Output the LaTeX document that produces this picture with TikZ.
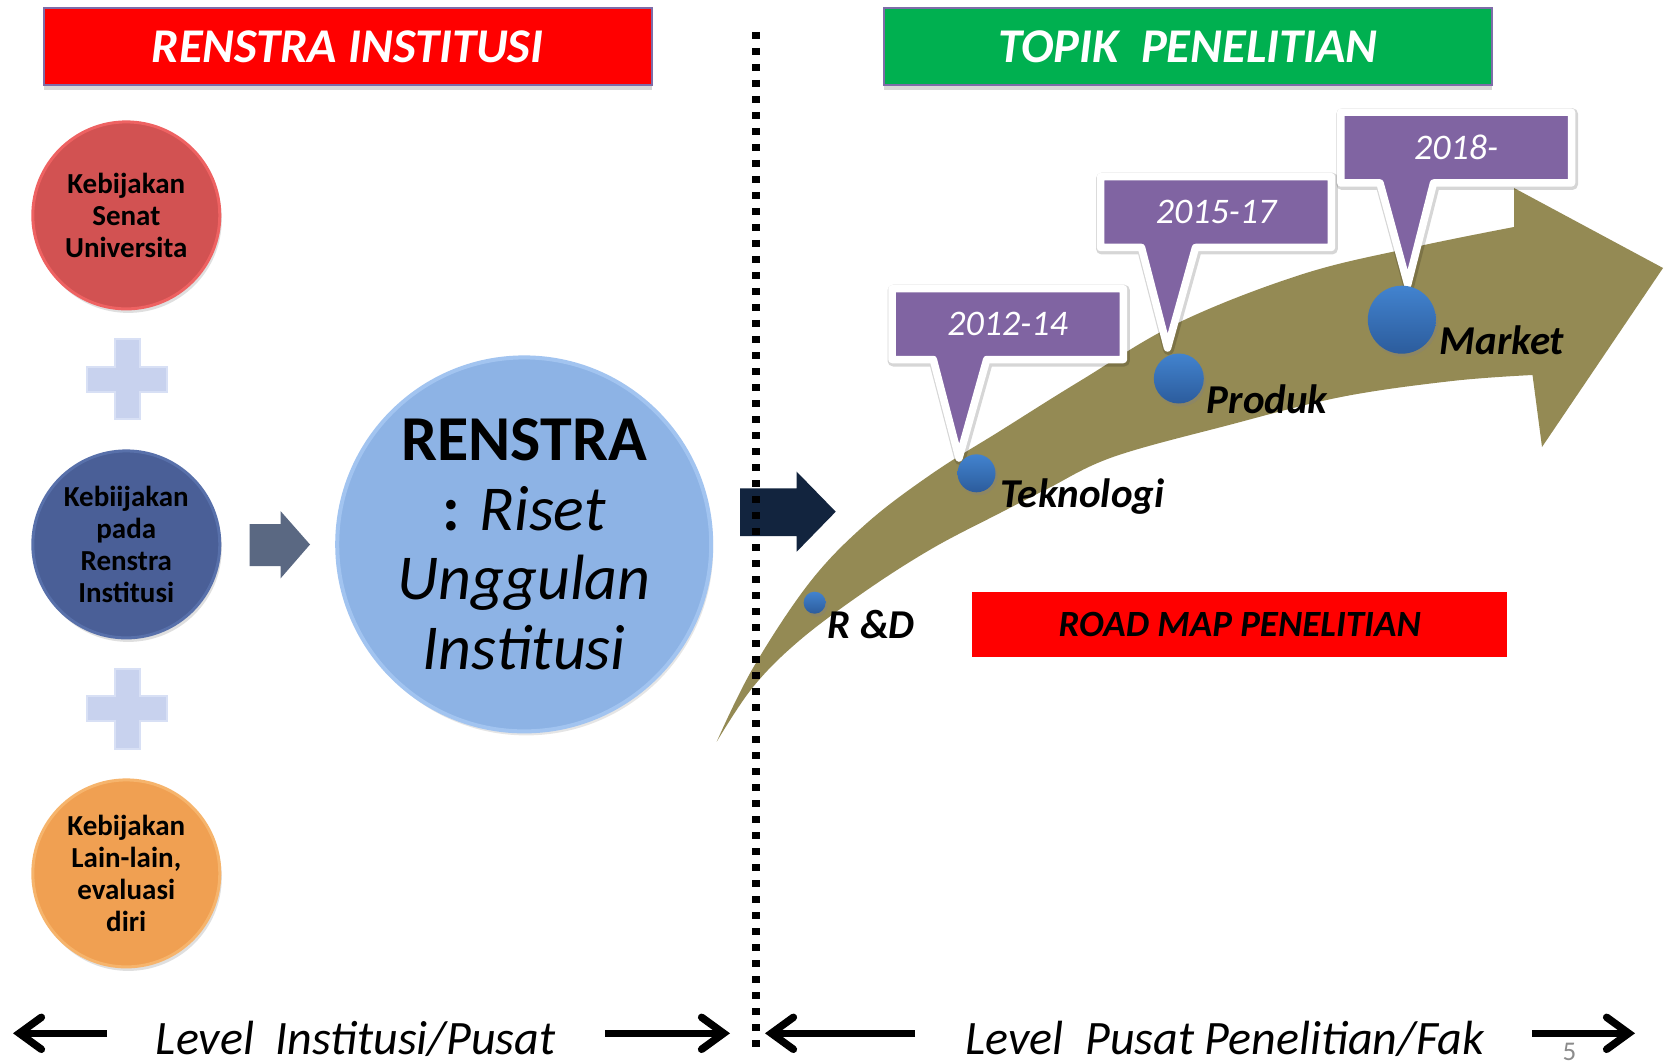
\documentclass[tikz,border=0pt]{standalone}
\usepackage{fontspec}
\setmainfont{Carlito}
\usetikzlibrary{shadows,arrows.meta}
\definecolor{cRed}{HTML}{FF0000}
\definecolor{cGreen}{HTML}{00B050}
\definecolor{cHdrB}{HTML}{7E6CA8}
\definecolor{cPurple}{HTML}{8064A2}
\definecolor{cOlive}{HTML}{948A54}
\definecolor{cNavy}{HTML}{12243E}
\definecolor{cGrayArr}{HTML}{5A6882}
\definecolor{cPlus}{HTML}{C8D2EE}
\definecolor{cPlusE}{HTML}{D8E0F5}
\definecolor{cBig}{HTML}{8DB3E5}
\definecolor{cBigE}{HTML}{A2C4F0}
\definecolor{cRedC}{HTML}{D25252}
\definecolor{cRedCE}{HTML}{EE6262}
\definecolor{cBlueC}{HTML}{4A5F97}
\definecolor{cBlueCE}{HTML}{5870AA}
\definecolor{cOrC}{HTML}{F0A052}
\definecolor{cOrCE}{HTML}{F6B46C}
\definecolor{cDotTop}{HTML}{4283CF}
\definecolor{cDotBot}{HTML}{2C5C9C}
\definecolor{cPage}{HTML}{8C8C8C}
\tikzset{
  hdr/.style={draw=cHdrB, line width=2pt, minimum width=608pt, minimum height=77pt,
    inner sep=0pt, text=white, font=\fontsize{48.5}{58}\selectfont\bfseries\itshape,
    drop shadow={opacity=.3, shadow xshift=0pt, shadow yshift=-5pt}},
  pol/.style={circle, inner sep=0pt, minimum size=187pt, line width=3pt, align=center,
    font=\fontsize{29}{32}\selectfont\bfseries,
    drop shadow={opacity=.25, shadow xshift=2pt, shadow yshift=-4pt}},
  tdot/.style={circle, inner sep=0pt, top color=cDotTop, bottom color=cDotBot,
    drop shadow={opacity=.35, shadow xshift=2pt, shadow yshift=-3pt}},
  stagelbl/.style={font=\fontsize{41}{49}\selectfont\bfseries\itshape, anchor=base west, inner sep=0pt},
  caltext/.style={text=white, font=\fontsize{36}{43}\selectfont\itshape, inner sep=0pt},
  calbox/.style={draw=white, fill=cPurple, line width=7.5pt, line join=round,
    preaction={draw=black, draw opacity=.16, line width=11pt, line join=round,
      transform canvas={xshift=1pt, yshift=-1.5pt}}},
  plusst/.style={fill=cPlus, draw=cPlusE, line width=2pt},
  levtext/.style={font=\fontsize{48}{58}\selectfont\itshape, anchor=base, inner sep=0pt},
  levarrow/.style={line width=7.5pt, -{Straight Barb[length=22pt, width=32pt, line cap=round]}},
}
\begin{document}
\begin{tikzpicture}[x=1pt, y=-1pt]
\useasboundingbox (0,0) rectangle (1664,1064);
\fill[white] (0,0) rectangle (1664,1064);

% headers
\node (h1) [hdr, fill=cRed] at (347.5,46.7) {RENSTRA INSTITUSI};
\node (h2) [hdr, fill=cGreen] at (1188,46.7) {TOPIK\ \ PENELITIAN};

% policy circles
\node (red) [pol, fill=cRedC, draw=cRedCE] at (126.3,215.4) {Kebijakan\\Senat\\Universita};
\node (blu) [pol, fill=cBlueC, draw=cBlueCE] at (126.3,544.4) {Kebiijakan\\pada\\Renstra\\Institusi};
\node (ora) [pol, fill=cOrC, draw=cOrCE] at (126.3,873.4) {Kebijakan\\Lain-lain,\\evaluasi\\diri};

% plus signs
\foreach \cy in {379.3,708.9}{
  \filldraw[plusst] (114.5,{\cy-40}) -- (139.5,{\cy-40}) -- (139.5,{\cy-12.5}) -- (167,{\cy-12.5})
    -- (167,{\cy+12.5}) -- (139.5,{\cy+12.5}) -- (139.5,{\cy+40}) -- (114.5,{\cy+40})
    -- (114.5,{\cy+12.5}) -- (86.5,{\cy+12.5}) -- (86.5,{\cy-12.5}) -- (114.5,{\cy-12.5}) -- cycle;
}

% gray block arrow
\fill[cGrayArr] (249.5,524) -- (280.5,524) -- (280.5,511) -- (310,544.5) -- (280.5,578.5)
  -- (280.5,566) -- (249.5,566) -- cycle;

% big circle
\node (big) [circle, inner sep=0pt, minimum size=374pt, fill=cBig, draw=cBigE, line width=4pt,
  align=center, font=\fontsize{64}{69.5}\selectfont,
  drop shadow={opacity=.2, shadow xshift=2pt, shadow yshift=-4pt}] at (524.2,544.4)
  {{\bfseries RENSTRA}\\{\bfseries :} {\itshape Riset}\\{\itshape Unggulan}\\{\itshape Institusi}};

% olive curved arrow
\fill[cOlive] plot[smooth, tension=0.6] coordinates {(716.7,741.7) (753,668) (810,582) (867,523)
    (933,473) (1000,431) (1080,381) (1180,322) (1303,274) (1415,247) (1514,227)}
  -- (1514,188) -- (1663,268) -- (1542,447) -- (1532.5,375)
  -- plot[smooth, tension=0.6] coordinates {(1532.5,375) (1452,381) (1341,397) (1229,425)
    (1113,457) (1047,489) (1000,513) (933,548) (867,590) (800,640) (753,687) (716.7,741.7)}
  -- cycle;

% navy block arrow
\fill[cNavy] (740,488.3) -- (796.7,488.3) -- (796.7,471.7) -- (835.7,511.7) -- (796.7,551.7)
  -- (796.7,536) -- (740,536) -- cycle;

% callouts
\filldraw[calbox] (892,288.7) -- (1123.4,288.7) -- (1123.4,359.5) -- (986.7,359.5) -- (959,458)
  -- (933.3,359.5) -- (892,359.5) -- cycle;
\filldraw[calbox] (1100.5,176.7) -- (1331.4,176.7) -- (1331.4,247.5) -- (1195.5,247.5) -- (1167.5,348)
  -- (1141.5,247.5) -- (1100.5,247.5) -- cycle;
\filldraw[calbox] (1340.8,112.2) -- (1571.5,112.2) -- (1571.5,183) -- (1433.5,183) -- (1407.7,284.5)
  -- (1380,183) -- (1340.8,183) -- cycle;
\node (c1) [caltext] at (1007.7,324.1) {2012-14};
\node (c2) [caltext] at (1216,212.1) {2015-17};
\node (c3) [caltext] at (1456.2,147.6) {2018-};

% dots
\node (drd) [tdot, minimum size=22pt] at (814.6,602.7) {};
\node (dtek) [tdot, minimum size=38pt] at (976.5,473.3) {};
\node (dpro) [tdot, minimum size=50pt] at (1178.8,378.5) {};
\node (dmar) [tdot, minimum size=68pt] at (1401.8,319.7) {};

% stage labels
\node (lrd) [stagelbl] at (827.5,638.3) {R \&D};
\node (ltek) [stagelbl] at (1000.5,507) {Teknologi};
\node (lpro) [stagelbl] at (1206.6,413.3) {Produk};
\node (lmar) [stagelbl] at (1439.4,354) {Market};

% road map box
\node (road) [fill=cRed, minimum width=535.5pt, minimum height=64.5pt, inner sep=0pt,
  font=\fontsize{37}{44}\selectfont\bfseries\itshape] at (1239.7,624.5) {ROAD MAP PENELITIAN};

% dotted divider
\coordinate (dtop) at (756.2,32);
\coordinate (dbot) at (756.2,1047);
\draw[line width=7.5pt, dash pattern=on 7pt off 9pt] (dtop) -- (dbot);

% bottom level labels and arrows
\node (lev1) [levtext] at (355.6,1054) {Level\ \ Institusi/Pusat};
\node (lev2) [levtext] at (1224.7,1054) {Level\ \ Pusat Penelitian/Fak};
\coordinate (la1) at (107,1033.3);
\coordinate (la2) at (13,1033.3);
\coordinate (ra1) at (605,1033.3);
\coordinate (ra2) at (730,1033.3);
\coordinate (lb1) at (915,1033.3);
\coordinate (lb2) at (765,1033.3);
\coordinate (rb1) at (1532,1033.3);
\coordinate (rb2) at (1635,1033.3);
\draw[levarrow] (la1) -- (la2);
\draw[levarrow] (ra1) -- (ra2);
\draw[levarrow] (lb1) -- (lb2);
\draw[levarrow] (rb1) -- (rb2);

% page number
\node (pg) [text=cPage, font=\fontsize{27}{32}\selectfont, anchor=base, inner sep=0pt] at (1569.5,1060.5) {5};
\end{tikzpicture}
\end{document}
